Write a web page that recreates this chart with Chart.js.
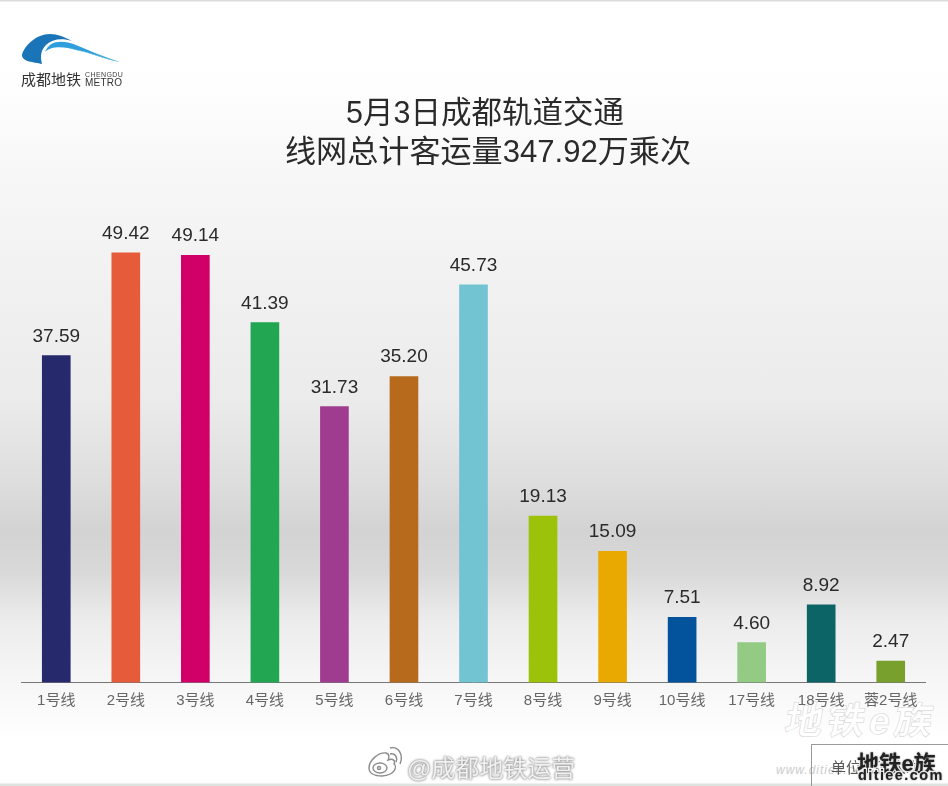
<!DOCTYPE html>
<html lang="zh">
<head>
<meta charset="utf-8">
<script src="https://cdn.jsdelivr.net/npm/chart.js@4"></script>
<style>
html,body{margin:0;padding:0;background:#fff}
#stage{position:relative;width:948px;height:786px;overflow:hidden;
 background:linear-gradient(180deg,#dcdcdc 0,#dcdcdc 1px,#fff 2px,#fff 70px,#f6f6f6 190px,#ebebeb 400px,#dedede 480px,#d3d3d3 530px,#d8d8d8 570px,#ececec 620px,#f6f6f6 680px,#fff 740px,#fff 783px,#dfe3df 784px);
 font-family:"Liberation Sans","Noto Sans CJK SC",sans-serif}
canvas{position:absolute;left:0;top:0}
.t{position:absolute;white-space:nowrap}
#title{left:285px;width:400px;top:92.5px;text-align:center;font-size:30.5px;line-height:39.5px;color:#2a2a2a;font-weight:400}
#title div:nth-child(2){font-size:31.1px}
#wb{left:407px;top:749px;font-size:24px;color:#f1f1f1;text-shadow:0 0 3px #8a8a8a,0 0 2px #8a8a8a}
#wm{left:786px;top:690px;font-size:38px;font-weight:700;color:#fff;letter-spacing:4px;-webkit-text-stroke:.5px #d0d0d0;transform:skewX(-10deg)}
#wm4{left:776px;top:763px;font-size:12px;font-style:italic;color:#ccc;letter-spacing:1px}
#unit{left:831px;top:756px;font-size:15px;color:#555}
#box{left:811px;top:744px;width:137px;height:42px;border-left:1px solid #999;border-top:1px solid #999;box-sizing:border-box}
#wm2,#wm3{font-weight:700;color:#222;-webkit-text-stroke:2.5px #fff;paint-order:stroke fill;text-shadow:0 0 2px #888}
#wm2{left:857px;top:745px;font-size:22px;letter-spacing:.2px}
#wm3{left:858px;top:767px;font-size:14.5px;letter-spacing:1.4px}
#l1{left:21px;top:68px;font-size:15px;color:#333}
#l2{left:85px;top:71px;font-size:7px;color:#444;letter-spacing:.4px}
#l3{left:85px;top:77px;font-size:10px;color:#333;letter-spacing:.2px}
#logo{position:absolute;left:20px;top:32px}
#weibo{position:absolute;left:367px;top:745px}
</style>
</head>
<body>
<div id="stage">
<div class="t" id="wm">地铁e族</div>
<div class="t" id="wm4">www.ditiee.com</div>
<canvas id="c" width="948" height="786"></canvas>
<svg id="logo" width="102" height="36" viewBox="0 0 102 36">
 <path d="M2 23 C4 14 16 2 30 2 C38 2 44 5 52 9 C42 6 32 7 26 13 C21 18 20 24 22 32 C14 30 2 30 2 23Z" fill="#1a74b8"/>
 <path d="M25 20 C30 8 42 8 56 13 C72 20 88 26 100 30 C84 27 70 20 56 18 C46 15 32 13 25 20Z" fill="#2e9fdc"/>
 <path d="M46 15 C64 19 86 26 100 30 C84 27 70 21 56 18Z" fill="#6cc3dd"/>
</svg>
<div class="t" id="l1">成都地铁</div>
<div class="t" id="l2">CHENGDU</div>
<div class="t" id="l3">METRO</div>
<div class="t" id="title"><div>5月3日成都轨道交通</div><div>线网总计客运量347.92万乘次</div></div>
<div class="t" id="box"></div>
<div class="t" id="unit">单位：万人次</div>
<div class="t" id="wm2">地铁e族</div>
<div class="t" id="wm3">ditiee.com</div>
<svg id="weibo" width="36" height="34" viewBox="0 0 36 34" fill="none" stroke="#8c8c8c" stroke-width="1.4">
 <path d="M2 23 C2 15 12 7 19 8 C23 9 22 13 21 15 C26 13 29 16 27 19 C30 21 29 30 15 31 C7 31 2 28 2 23Z"/><ellipse cx="13" cy="23" rx="7" ry="5"/><circle cx="12" cy="23" r="1.5"/>
 <path d="M23 9 C28 8 31 12 29 17"/><path d="M23 3 C31 1 37 9 33 19"/>
</svg>
<div class="t" id="wb">@成都地铁运营</div>
</div>
<script>
const categories = ["1号线","2号线","3号线","4号线","5号线","6号线","7号线","8号线","9号线","10号线","17号线","18号线","蓉2号线"];
const ridership = [37.59,49.42,49.14,41.39,31.73,35.20,45.73,19.13,15.09,7.51,4.60,8.92,2.47];
const barColors = ["#27296d","#e65c3a","#d00068","#22a652","#a03c8f","#b86a1c","#72c4d2","#9cc30a","#e9a900","#02529c","#93cb85","#0c6466","#78a02c"];

const valueLabels = {
  id:"valueLabels",
  afterDatasetsDraw(chart){
    const {ctx} = chart;
    const meta = chart.getDatasetMeta(0);
    ctx.save();
    ctx.font = '19px "Liberation Sans","Noto Sans CJK SC",sans-serif';
    ctx.fillStyle = "#2a2a2a";
    ctx.textAlign = "center";
    ctx.textBaseline = "alphabetic";
    meta.data.forEach((bar,i)=>{
      ctx.fillText(ridership[i].toFixed(2), bar.x, bar.y-14);
    });
    ctx.restore();
  }
};

new Chart(document.getElementById("c"),{
  type:"bar",
  data:{labels:categories,datasets:[{data:ridership,backgroundColor:barColors,borderWidth:0,barThickness:28}]},
  options:{
    responsive:false,animation:false,
    layout:{padding:{left:21.5,right:22.5,top:200,bottom:0}},
    plugins:{legend:{display:false},tooltip:{enabled:false}},
    scales:{
      x:{
        grid:{display:false,drawTicks:false},
        border:{display:true,color:"#777",width:1},
        ticks:{color:"#666",font:{size:15,family:'"Liberation Sans","Noto Sans CJK SC",sans-serif'},padding:9,maxRotation:0,autoSkip:false},
        afterFit(s){s.height=103.5}
      },
      y:{display:false,min:0,max:55.5}
    }
  },
  plugins:[valueLabels]
});
</script>
</body>
</html>
